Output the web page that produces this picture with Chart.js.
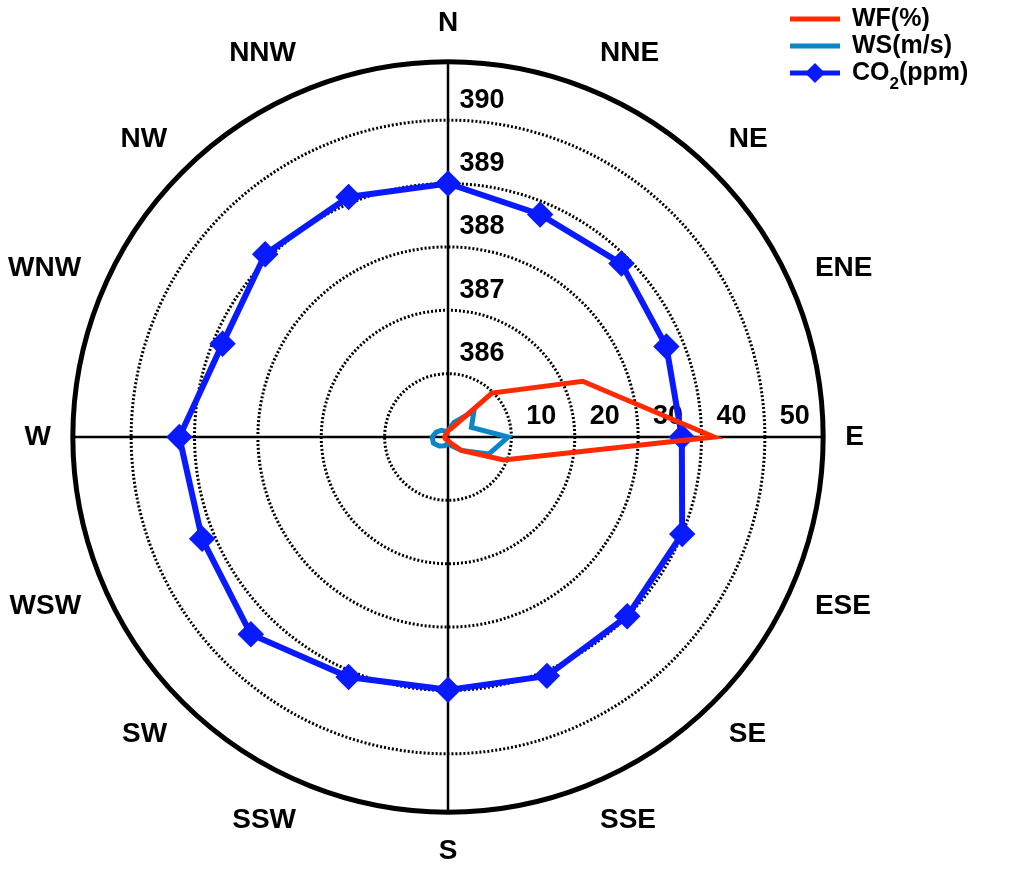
<!DOCTYPE html>
<html><head><meta charset="utf-8">
<script src="https://cdn.jsdelivr.net/npm/chart.js@4"></script>
<style>html,body{margin:0;padding:0;background:#fff}#w{width:1024px;height:875px}</style>
</head><body><div id="w"><canvas id="c"></canvas></div>
<script>
const directions = ['N','NNE','NE','ENE','E','ESE','SE','SSE','S','SSW','SW','WSW','W','WNW','NW','NNW'];
const wfPercent = [1, 1.5, 9.8, 23, 42, 9.5, 3, 1, 0.5, 0.5, 0.5, 0.5, 0.5, 0.5, 0.5, 0.5];
const wsMs = [1, 2.5, 5.8, 4, 9.5, 7, 3, 1.5, 1, 1.5, 2, 2.5, 2.5, 2, 1.5, 1];
const co2Ppm = [389.0, 388.8, 388.87, 388.73, 388.69, 389.0, 389.0, 389.08, 388.99, 389.1, 389.4, 389.2, 389.24, 388.85, 389.08, 389.1];
const co2Ticks = [386, 387, 388, 389, 390];
const wfTicks = [10, 20, 30, 40, 50];
const co2Base = 385, co2Factor = 10;
const rMax = 59.2;

const deco = {
  id: 'deco',
  beforeDatasetsDraw(chart) {
    const s = chart.scales.r, ctx = chart.ctx;
    const cx = s.xCenter, cy = s.yCenter;
    ctx.save();
    ctx.strokeStyle = '#000'; ctx.lineWidth = 3; ctx.setLineDash([2, 2]);
    wfTicks.forEach(t => { ctx.beginPath(); ctx.arc(cx, cy, s.getDistanceFromCenterForValue(t), 0, Math.PI * 2); ctx.stroke(); });
    ctx.setLineDash([]);
    const R = s.getDistanceFromCenterForValue(rMax);
    ctx.lineWidth = 2.5;
    ctx.beginPath(); ctx.moveTo(cx - R, cy); ctx.lineTo(cx + R, cy); ctx.moveTo(cx, cy - R); ctx.lineTo(cx, cy + R); ctx.stroke();
    ctx.lineWidth = 5;
    ctx.beginPath(); ctx.arc(cx, cy, R, 0, Math.PI * 2); ctx.stroke();
    ctx.fillStyle = '#000'; ctx.font = 'bold 27px Arial, "Liberation Sans", sans-serif';
    ctx.textAlign = 'center'; ctx.textBaseline = 'middle';
    co2Ticks.forEach(t => { const d = s.getDistanceFromCenterForValue((t - co2Base) * co2Factor); ctx.fillText(String(t), cx + 34, cy - d - 20); });
    wfTicks.forEach(t => { const d = s.getDistanceFromCenterForValue(t); ctx.fillText(String(t), cx + d + 30, cy - 20); });
    const items = [['WF(%)', '#ff2a00', false], ['WS(m/s)', '#0a85c8', false], ['CO', '#0a1aff', true]];
    ctx.textAlign = 'left';
    items.forEach((it, i) => {
      const y = 19 + i * 27;
      ctx.strokeStyle = it[1]; ctx.lineWidth = 5;
      ctx.beginPath(); ctx.moveTo(790, y); ctx.lineTo(840, y); ctx.stroke();
      ctx.fillStyle = '#000'; ctx.font = 'bold 25px Arial, "Liberation Sans", sans-serif';
      if (it[2]) {
        ctx.fillStyle = it[1]; ctx.beginPath(); ctx.moveTo(815, y - 10); ctx.lineTo(825, y); ctx.lineTo(815, y + 10); ctx.lineTo(805, y); ctx.closePath(); ctx.fill();
        ctx.fillStyle = '#000';
        ctx.fillText('CO', 852, y); const w = ctx.measureText('CO').width;
        ctx.font = 'bold 17px Arial, "Liberation Sans", sans-serif'; ctx.fillText('2', 852 + w, y + 11);
        const w2 = ctx.measureText('2').width;
        ctx.font = 'bold 25px Arial, "Liberation Sans", sans-serif'; ctx.fillText('(ppm)', 852 + w + w2, y);
      } else {
        ctx.fillText(it[0], 852, y);
      }
    });
    ctx.restore();
  }
};

new Chart(document.getElementById('c'), {
  type: 'radar',
  data: {
    labels: directions,
    datasets: [
      { label: 'WF(%)', data: wfPercent, borderColor: '#ff2a00', borderWidth: 5, fill: false, pointRadius: 0, tension: 0 },
      { label: 'WS(m/s)', data: wsMs, borderColor: '#0a85c8', borderWidth: 5, fill: false, pointRadius: 0, tension: 0 },
      { label: 'CO2(ppm)', data: co2Ppm.map(v => (v - co2Base) * co2Factor), borderColor: '#0a1aff', backgroundColor: '#0a1aff', borderWidth: 6, fill: false, pointStyle: 'rectRot', pointRadius: 9, tension: 0 }
    ]
  },
  options: {
    responsive: true, maintainAspectRatio: false, animation: false,
    layout: { padding: { left: 0, right: 144, top: 6, bottom: 6 } },
    plugins: { legend: { display: false }, tooltip: { enabled: false } },
    scales: {
      r: {
        min: 0, max: rMax,
        ticks: { display: false, stepSize: 10 },
        grid: { display: false },
        angleLines: { display: false },
        pointLabels: { color: '#000', font: { size: 28, weight: 'bold', family: 'Arial, "Liberation Sans", sans-serif' }, padding: 22 }
      }
    }
  },
  plugins: [deco]
});
</script></body></html>
